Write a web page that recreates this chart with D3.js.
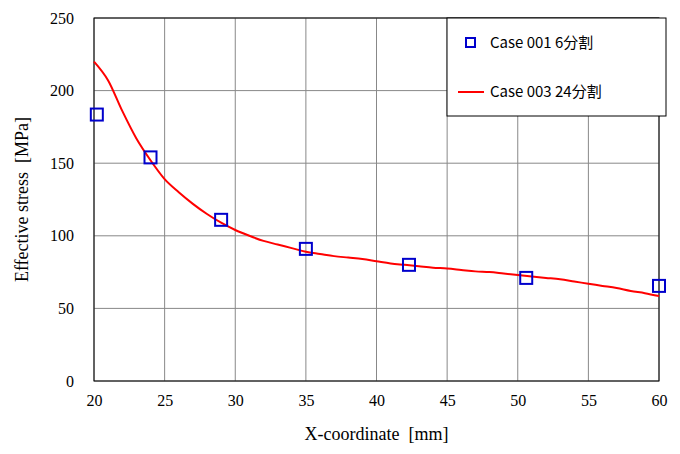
<!DOCTYPE html><html><head><meta charset="utf-8"><script src="https://cdn.jsdelivr.net/npm/d3@7"></script>
<style>body{margin:0;background:#fff}text{white-space:pre}</style></head><body><svg id="c" width="680" height="454"></svg><script>
const xTicks=[20,25,30,35,40,45,50,55,60];
const yTicks=[0,50,100,150,200,250];
const case001X=[20.2,24,29,35,42.3,50.6,60];
const case001Y=[183.5,154,111,91,80,71,65.5];
const case003X=[20,21,22,23,24,25,26,27,28,29,30,31,32,33,34,35,36,37,38,39,40,41,42,43,44,45,46,47,48,49,50,51,52,53,54,55,56,57,58,59,60];
const case003Y=[220,207,186,167,152,139,130,122,115,109,104,100,96.5,94,91.5,89,87.5,86,85,84,82.5,81,80,79,78,77.5,76.5,75.5,75,74,73,72,71,70,68.5,67,65.5,64,62,60.5,58.5];
const svg=d3.select("#c");
const L=94,R=659,T=18,B=381;
const x=d3.scaleLinear().domain([20,60]).range([L,R]);
const y=d3.scaleLinear().domain([0,250]).range([B,T]);
const g=svg.append("g");
g.selectAll(".gx").data(xTicks).join("line").attr("x1",d=>x(d)).attr("x2",d=>x(d)).attr("y1",T).attr("y2",B).attr("stroke","#888").attr("stroke-width",1);
g.selectAll(".gy").data(yTicks).join("line").attr("y1",d=>y(d)).attr("y2",d=>y(d)).attr("x1",L).attr("x2",R).attr("stroke","#888").attr("stroke-width",1);
svg.append("rect").attr("x",L).attr("y",T).attr("width",R-L).attr("height",B-T).attr("fill","none").attr("stroke","#000");
const xa=svg.append("g").attr("transform",`translate(0,${B})`).call(d3.axisBottom(x).tickValues(xTicks).tickSize(0).tickPadding(14));
const ya=svg.append("g").attr("transform",`translate(${L},0)`).call(d3.axisLeft(y).tickValues(yTicks).tickSize(0).tickPadding(20));
[xa,ya].forEach(a=>{a.select(".domain").remove();a.selectAll("text").attr("font-family","Liberation Serif").attr("font-size",16).attr("fill","#000");});
const line=d3.line().x((d,i)=>x(case003X[i])).y(d=>y(d)).curve(d3.curveMonotoneX);
svg.append("path").attr("d",line(case003Y)).attr("fill","none").attr("stroke","#f00").attr("stroke-width",2);
svg.selectAll(".sq").data(case001Y).join("rect").attr("x",(d,i)=>x(case001X[i])-6).attr("y",d=>y(d)-6).attr("width",12).attr("height",12).attr("fill","none").attr("stroke","#00c").attr("stroke-width",2);
svg.append("text").attr("x",(L+R)/2).attr("y",440).attr("text-anchor","middle").attr("font-family","Liberation Serif").attr("font-size",18).text("X-coordinate  [mm]");
svg.append("text").attr("transform",`translate(28,${(T+B)/2}) rotate(-90)`).attr("text-anchor","middle").attr("font-family","Liberation Serif").attr("font-size",18).text("Effective stress  [MPa]");
const lg=svg.append("g");
lg.append("rect").attr("x",447).attr("y",18).attr("width",219).attr("height",98).attr("fill","#fff").attr("stroke","#000");
lg.append("rect").attr("x",466).attr("y",38).attr("width",9).attr("height",9).attr("fill","none").attr("stroke","#00c").attr("stroke-width",2);
lg.append("line").attr("x1",458).attr("x2",484).attr("y1",92).attr("y2",92).attr("stroke","#f00").attr("stroke-width",2);
lg.append("text").attr("x",490).attr("y",48).attr("font-family","Noto Sans CJK JP").attr("font-size",15).text("Case 001 6分割");
lg.append("text").attr("x",490).attr("y",97).attr("font-family","Noto Sans CJK JP").attr("font-size",15).text("Case 003 24分割");
</script></body></html>
